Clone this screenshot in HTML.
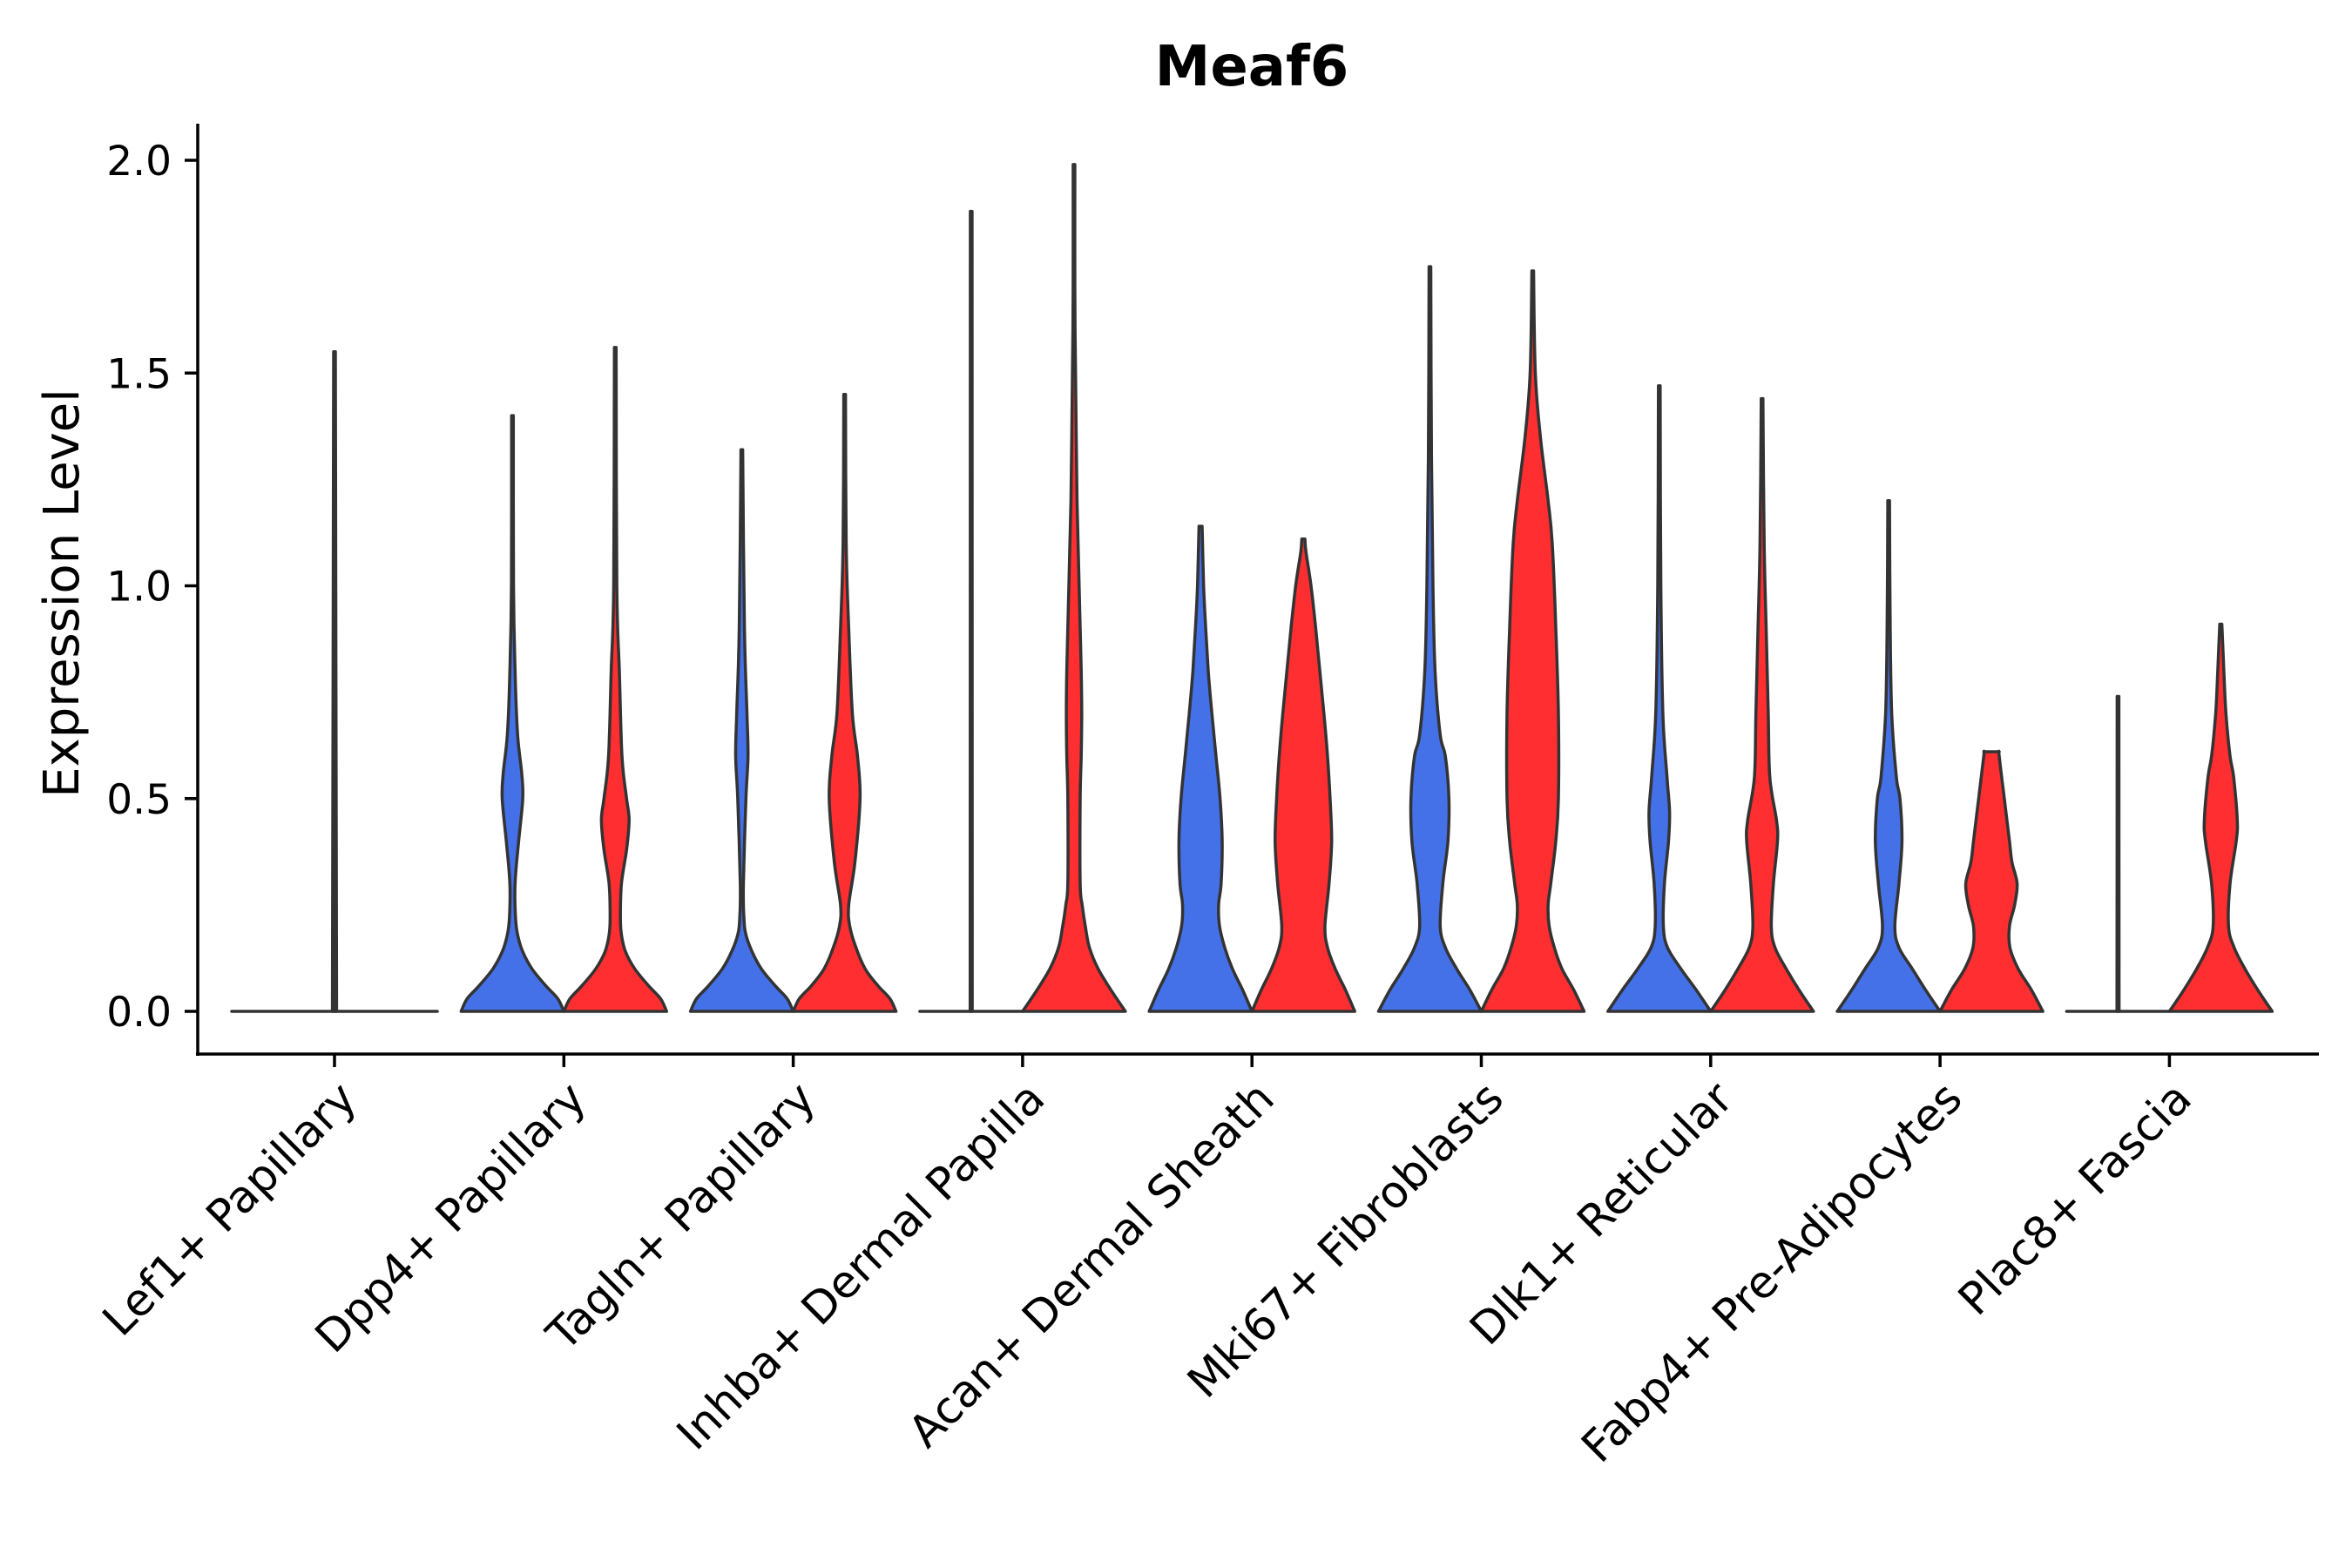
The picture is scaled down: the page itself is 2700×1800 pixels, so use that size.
<!DOCTYPE html>
<html><head><meta charset="utf-8"><style>
html,body{margin:0;padding:0;background:#fff;}
svg{display:block;font-family:"DejaVu Sans","Liberation Sans",sans-serif;}
</style></head><body>
<svg id="chart" width="2700" height="1800" viewBox="0 0 2700 1800" xmlns="http://www.w3.org/2000/svg">
<text x="1437" y="98" font-size="64" font-weight="bold" text-anchor="middle">Meaf6</text>
<text transform="translate(90,681) rotate(-90)" font-size="56" text-anchor="middle">Expression Level</text>
<g id="axes"></g>
<g id="violins"></g>
</svg>
<script>
const categories = ["Lef1+ Papillary","Dpp4+ Papillary","Tagln+ Papillary","Inhba+ Dermal Papilla","Acan+ Dermal Sheath","Mki67+ Fibroblasts","Dlk1+ Reticular","Fabp4+ Pre-Adipocytes","Plac8+ Fascia"];
const yTicks = [0, 0.5, 1.0, 1.5, 2.0];
const yTickLabels = ["0.0","0.5","1.0","1.5","2.0"];
// Each violin: profile of [expression value, relative density width]; null = group absent
const blueProfiles = [
 null,
 [[0,1],[0.03,0.88],[0.06,0.65],[0.1,0.38],[0.14,0.2],[0.18,0.1],[0.22,0.06],[0.3,0.05],[0.4,0.12],[0.5,0.2],[0.56,0.18],[0.65,0.1],[0.8,0.05],[1.0,0.02],[1.4,0.01]],
 [[0,1],[0.03,0.88],[0.06,0.65],[0.1,0.38],[0.14,0.2],[0.18,0.08],[0.22,0.04],[0.3,0.03],[0.5,0.08],[0.6,0.12],[0.7,0.1],[0.9,0.05],[1.32,0.01]],
 [[0,0.02],[1.88,0.005]],
 [[0,1],[0.05,0.82],[0.1,0.62],[0.15,0.47],[0.2,0.37],[0.25,0.35],[0.3,0.4],[0.4,0.42],[0.5,0.38],[0.6,0.3],[0.7,0.22],[0.8,0.15],[0.9,0.1],[1.0,0.06],[1.14,0.03]],
 [[0,1],[0.05,0.78],[0.1,0.52],[0.15,0.3],[0.2,0.2],[0.3,0.25],[0.4,0.35],[0.5,0.37],[0.6,0.3],[0.65,0.2],[0.8,0.1],[1.0,0.06],[1.3,0.03],[1.75,0.01]],
 [[0,1],[0.05,0.72],[0.1,0.42],[0.15,0.16],[0.2,0.08],[0.3,0.1],[0.4,0.18],[0.47,0.2],[0.55,0.15],[0.7,0.07],[1.0,0.03],[1.47,0.01]],
 [[0,1],[0.05,0.72],[0.1,0.46],[0.15,0.2],[0.2,0.12],[0.3,0.2],[0.4,0.26],[0.5,0.22],[0.55,0.15],[0.7,0.06],[0.9,0.03],[1.2,0.01]],
 [[0,0.02],[0.74,0.005]]
];
const redProfiles = [
 null,
 [[0,1],[0.03,0.88],[0.06,0.65],[0.1,0.38],[0.14,0.2],[0.18,0.12],[0.22,0.1],[0.3,0.12],[0.38,0.22],[0.45,0.27],[0.5,0.22],[0.6,0.13],[0.8,0.08],[1.0,0.03],[1.56,0.01]],
 [[0,1],[0.03,0.88],[0.06,0.65],[0.1,0.4],[0.15,0.22],[0.2,0.1],[0.25,0.08],[0.35,0.2],[0.5,0.3],[0.6,0.25],[0.7,0.15],[0.9,0.08],[1.1,0.03],[1.45,0.01]],
 [[0,1],[0.05,0.72],[0.1,0.47],[0.15,0.3],[0.2,0.22],[0.25,0.16],[0.3,0.12],[0.5,0.12],[0.6,0.14],[0.7,0.15],[0.8,0.14],[0.9,0.12],[1.0,0.1],[1.2,0.06],[1.5,0.03],[1.7,0.01],[1.99,0.01]],
 [[0,1],[0.05,0.82],[0.1,0.62],[0.15,0.47],[0.2,0.42],[0.3,0.5],[0.4,0.55],[0.5,0.52],[0.6,0.47],[0.7,0.4],[0.8,0.32],[0.9,0.24],[1.0,0.15],[1.08,0.05],[1.11,0.03]],
 [[0,1],[0.05,0.8],[0.1,0.57],[0.15,0.42],[0.2,0.32],[0.25,0.3],[0.3,0.35],[0.4,0.45],[0.5,0.5],[0.7,0.5],[0.9,0.45],[1.1,0.38],[1.2,0.3],[1.35,0.15],[1.5,0.05],[1.74,0.01]],
 [[0,1],[0.05,0.72],[0.1,0.47],[0.15,0.25],[0.2,0.18],[0.3,0.22],[0.4,0.3],[0.45,0.28],[0.55,0.15],[0.7,0.12],[0.9,0.08],[1.1,0.04],[1.44,0.01]],
 [[0,1],[0.05,0.78],[0.1,0.52],[0.15,0.36],[0.2,0.35],[0.25,0.45],[0.3,0.5],[0.35,0.4],[0.4,0.35],[0.5,0.25],[0.6,0.15],[0.61,0.15]],
 [[0,1],[0.05,0.72],[0.1,0.47],[0.15,0.26],[0.2,0.15],[0.3,0.18],[0.4,0.3],[0.45,0.32],[0.55,0.25],[0.6,0.18],[0.7,0.1],[0.8,0.06],[0.91,0.02]]
];
const singleProfiles = [
 [[0,0.02],[1.55,0.005]], null,null,null,null,null,null,null,null
];

const NS="http://www.w3.org/2000/svg";
const X0=384, STEP=263.3, Y0=1161, PXU=488.5, HALF=59;
function xPos(i){return X0+STEP*i;}
function yPos(v){return Y0-v*PXU;}
function mk(tag,attrs,parent){const e=document.createElementNS(NS,tag);for(const k in attrs)e.setAttribute(k,attrs[k]);parent.appendChild(e);return e;}
const axes=document.getElementById('axes'), vg=document.getElementById('violins');

const yl=mk('line',{x1:227,y1:142,x2:227,y2:1212,stroke:'#000','stroke-width':3.5},axes);


const xl=mk('line',{x1:225,y1:1210,x2:2662,y2:1210,stroke:'#000','stroke-width':3.5},axes);


yTicks.forEach((t,i)=>{
 const tk=mk('line',{x1:212,y1:yPos(t),x2:227,y2:yPos(t),stroke:'#000','stroke-width':3.5},axes);
 
 
 const tl=mk('text',{x:197,y:yPos(t)+17,'font-size':47,'text-anchor':'end'},axes);
 tl.textContent=yTickLabels[i];
 
 
});
categories.forEach((c,i)=>{
 const x=xPos(i);
 const tk=mk('line',{x1:x,y1:1210,x2:x,y2:1225,stroke:'#000','stroke-width':3.5},axes);
 
 
 const tl=mk('text',{transform:`translate(${x+28},${1264}) rotate(-45)`,'font-size':51,'text-anchor':'end'},axes);
 tl.textContent=c;
 
 
});

function smoothSide(pts){
 let d='';
 for(let i=0;i<pts.length-1;i++){
  const p0=pts[Math.max(i-1,0)],p1=pts[i],p2=pts[i+1],p3=pts[Math.min(i+2,pts.length-1)];
  const c1=[p1[0]+(p2[0]-p0[0])/6,p1[1]+(p2[1]-p0[1])/6];
  const c2=[p2[0]-(p3[0]-p1[0])/6,p2[1]-(p3[1]-p1[1])/6];
  d+=`C${c1[0].toFixed(1)},${c1[1].toFixed(1)} ${c2[0].toFixed(1)},${c2[1].toFixed(1)} ${p2[0].toFixed(1)},${p2[1].toFixed(1)}`;
 }
 return d;
}
function violin(cx,prof,half,fill,name){
 const right=prof.map(p=>[cx+Math.max(p[1]*half,1),yPos(p[0])]);
 const left=prof.slice().reverse().map(p=>[cx-Math.max(p[1]*half,1),yPos(p[0])]);
 const d='M'+right[0][0].toFixed(1)+','+right[0][1].toFixed(1)+smoothSide(right)+'L'+left[0][0].toFixed(1)+','+left[0][1].toFixed(1)+smoothSide(left)+'Z';
 const path=mk('path',{d:d,fill:fill,stroke:'#333','stroke-width':3.5,'stroke-linejoin':'round'},vg);
 
 
 if(prof[0][1]<0.05){
  const b=mk('line',{x1:cx-half,y1:Y0,x2:cx+half,y2:Y0,stroke:'#333','stroke-width':3.5,'stroke-linecap':'round'},vg);
  
  
 }
}
categories.forEach((c,i)=>{
 const x=xPos(i);
 if(singleProfiles[i]) violin(x,singleProfiles[i],2*HALF,'#333','violin-single');
 if(blueProfiles[i]) violin(x-HALF,blueProfiles[i],HALF,'#4571e8','violin-blue');
 if(redProfiles[i]) violin(x+HALF,redProfiles[i],HALF,'#ff2e30','violin-red');
});
</script>
</body></html>
